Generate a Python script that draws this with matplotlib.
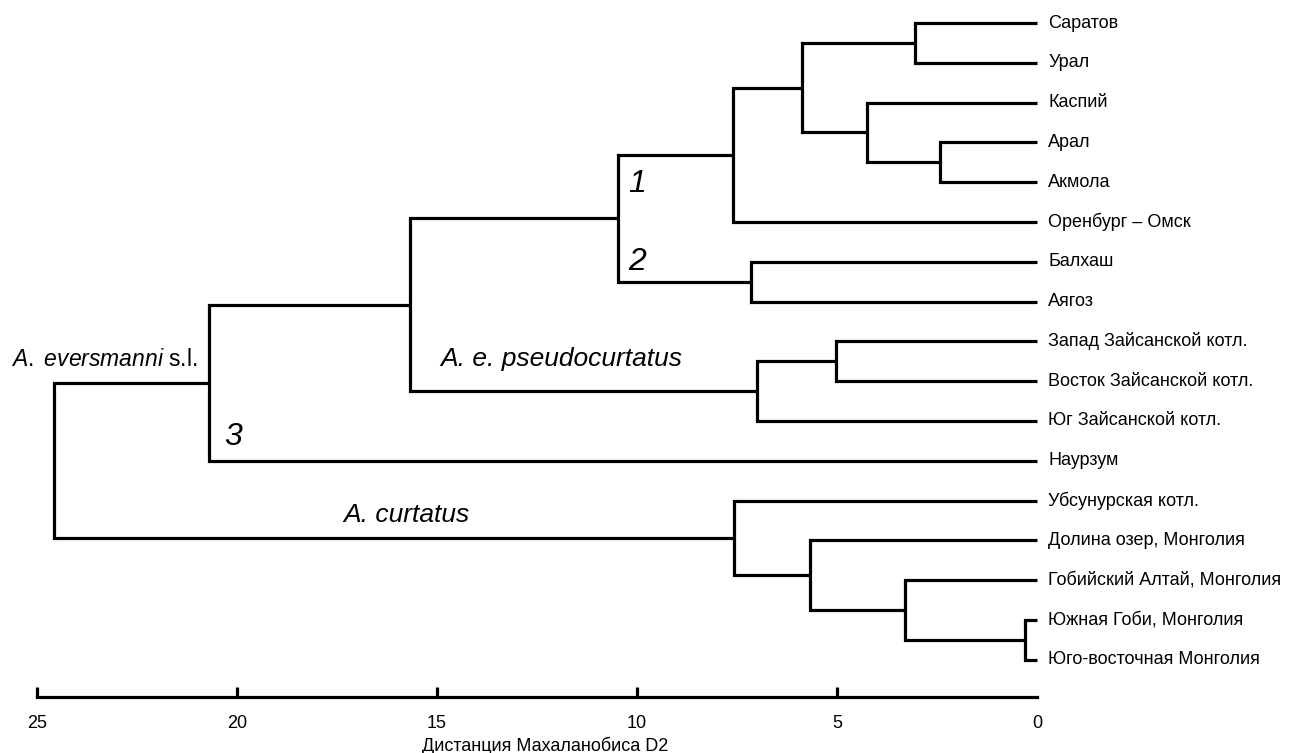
import matplotlib
matplotlib.use("Agg")
import matplotlib.pyplot as plt

plt.rcParams['font.family'] = ['Liberation Sans', 'DejaVu Sans']
plt.rcParams['mathtext.fontset'] = 'custom'
plt.rcParams['mathtext.rm'] = 'Liberation Sans'
plt.rcParams['mathtext.it'] = 'Liberation Sans:italic'

# leaves, top to bottom
leaves = ["Саратов", "Урал", "Каспий", "Арал", "Акмола", "Оренбург – Омск",
          "Балхаш", "Аягоз", "Запад Зайсанской котл.", "Восток Зайсанской котл.",
          "Юг Зайсанской котл.", "Наурзум", "Убсунурская котл.",
          "Долина озер, Монголия", "Гобийский Алтай, Монголия",
          "Южная Гоби, Монголия", "Юго-восточная Монголия"]

# merges: child a, child b, distance  (ids >= 17 are earlier merges)
merge_a = [15, 3, 0, 14, 2, 8, 13, 19, 22, 6, 12, 24, 28, 29, 30, 31]
merge_b = [16, 4, 1, 17, 18, 9, 20, 21, 10, 7, 23, 5, 26, 25, 11, 27]
merge_h = [0.3, 2.43, 3.05, 3.3, 4.25, 5.03, 5.68, 5.88, 7.0, 7.15, 7.58, 7.6,
           10.48, 15.68, 20.7, 24.58]

ticks = [25, 20, 15, 10, 5, 0]
xlabel = "Дистанция Махаланобиса D2"

fig = plt.figure(figsize=(12.9, 7.53), dpi=100)
ax = fig.add_axes([0, 56 / 753, 1, 697 / 753])

# node positions
xs = [0.0] * len(leaves)
ys = [float(i) for i in range(len(leaves))]
for a, b, h in zip(merge_a, merge_b, merge_h):
    ax.plot([xs[a], h, h, xs[b]], [ys[a], ys[a], ys[b], ys[b]],
            color='black', lw=2.3, solid_joinstyle='miter', solid_capstyle='butt')
    xs.append(h)
    ys.append((ys[a] + ys[b]) / 2)

for i, name in enumerate(leaves):
    ax.text(-0.28, i, name, ha='left', va='center', fontsize=13)

# group labels
ax.text(25.65, 8.45, r"$\mathit{A.}$ $\mathit{eversmanni}$ s.l.", ha='left', va='center', fontsize=16.5)
ax.text(14.93, 8.45, "A. e. pseudocurtatus", style='italic', ha='left', va='center', fontsize=19)
ax.text(17.35, 12.35, "A. curtatus", style='italic', ha='left', va='center', fontsize=19)
ax.text(10.0, 4.05, "1", style='italic', ha='center', va='center', fontsize=23)
ax.text(10.0, 6.0, "2", style='italic', ha='center', va='center', fontsize=23)
ax.text(20.1, 10.4, "3", style='italic', ha='center', va='center', fontsize=23)

ax.set_xlim(25.925, -6.325)
ax.set_ylim(16.935, -0.578)
for s in ['top', 'left', 'right']:
    ax.spines[s].set_visible(False)
ax.spines['bottom'].set_linewidth(2.3)
ax.spines['bottom'].set_bounds(0, 25)
ax.set_yticks([])
ax.set_xticks(ticks)
ax.set_xticklabels([str(t) for t in ticks], fontsize=13)
ax.tick_params(axis='x', direction='in', length=7.5, width=2.3, pad=13)
ax.xaxis.get_major_ticks()[-1].tick1line.set_visible(False)
ax.set_xlabel(xlabel, fontsize=13, labelpad=0)
ax.xaxis.set_label_coords(545 / 1290, -40 / 697)

fig.savefig("out.png", dpi=100)
